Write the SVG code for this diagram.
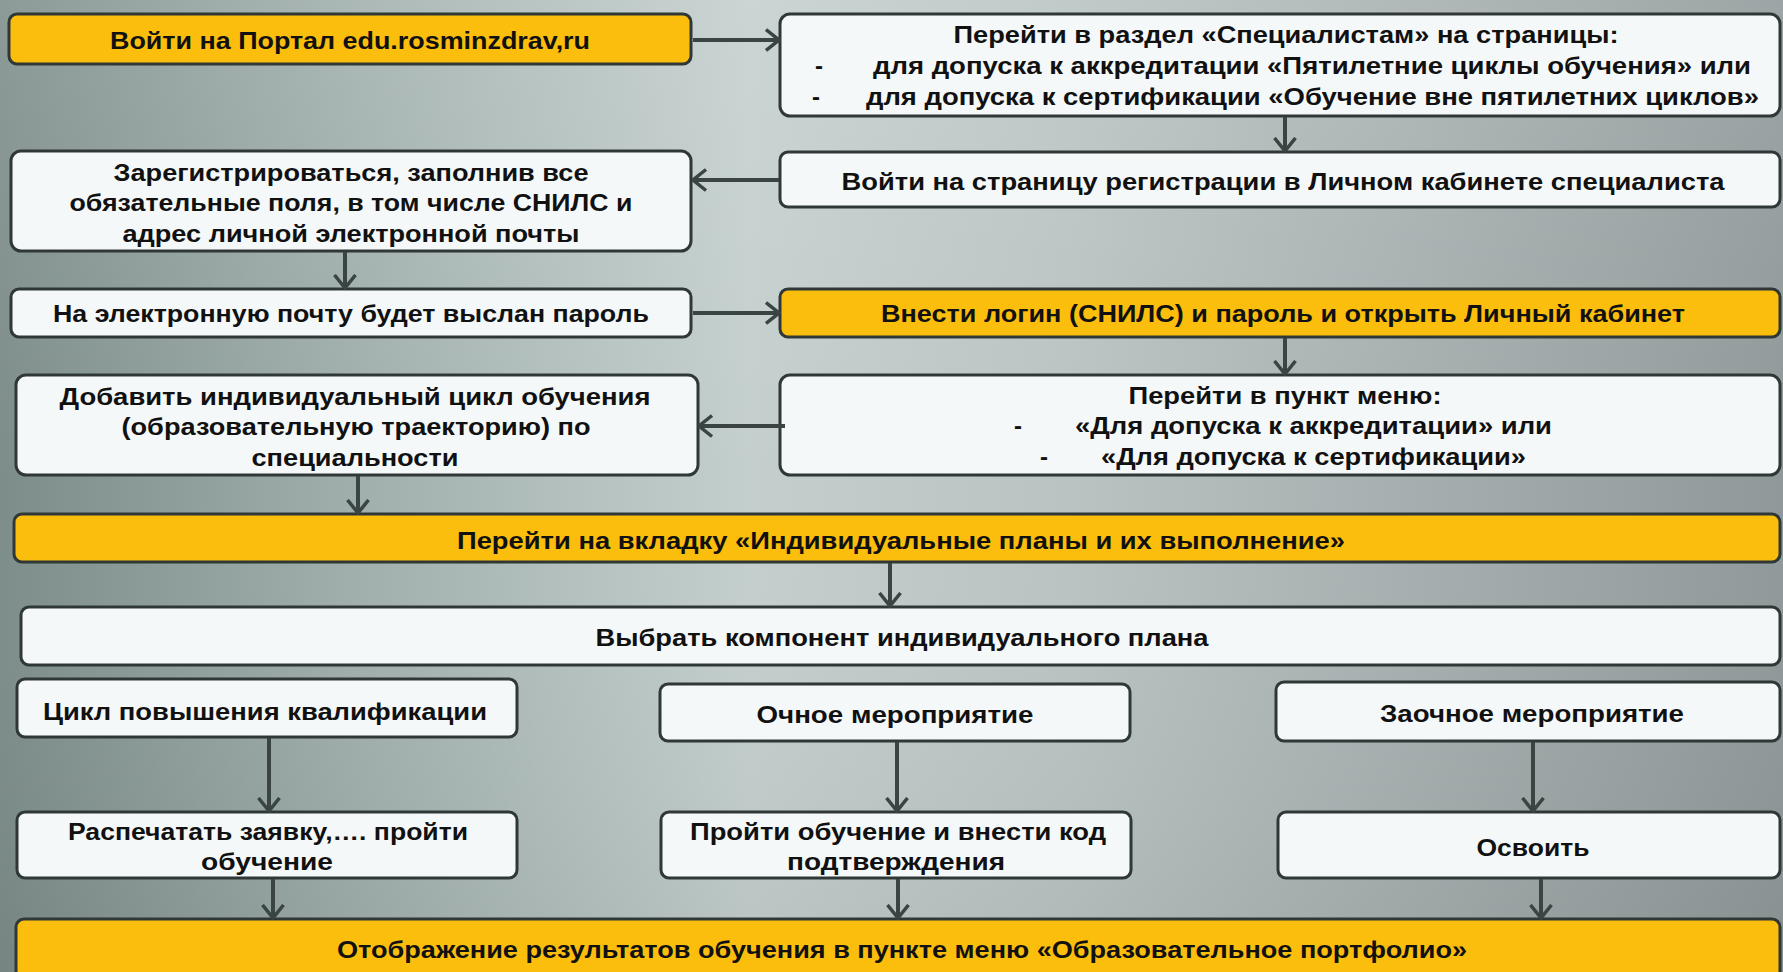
<svg xmlns="http://www.w3.org/2000/svg" width="1783" height="972" viewBox="0 0 1783 972">
<defs>
<linearGradient id="bg" x1="0" y1="0" x2="1" y2="0">
<stop offset="0" stop-color="#7d8d8a"/>
<stop offset="0.2" stop-color="#a0afac"/>
<stop offset="0.42" stop-color="#c4cfcd"/>
<stop offset="0.6" stop-color="#b8c3c2"/>
<stop offset="0.8" stop-color="#a5aeae"/>
<stop offset="1" stop-color="#8f9999"/>
</linearGradient>
<linearGradient id="bgv" x1="0" y1="0" x2="0" y2="1">
<stop offset="0" stop-color="#ffffff" stop-opacity="0.12"/>
<stop offset="0.5" stop-color="#ffffff" stop-opacity="0"/>
<stop offset="1" stop-color="#000000" stop-opacity="0.06"/>
</linearGradient>
<marker id="ah" viewBox="0 0 16 24" refX="14.5" refY="12" markerWidth="16" markerHeight="24" markerUnits="userSpaceOnUse" orient="auto">
<path d="M1.5,1.5 L14.5,12 L1.5,22.5" fill="none" stroke="#3a4442" stroke-width="3.5" stroke-linejoin="miter"/>
</marker>
<style>
.w{fill:#f5f8f8;stroke:#2f3836;stroke-width:3}
.y{fill:#fbbe0c;stroke:#2f3836;stroke-width:3}
text{font-family:"Liberation Sans",Arial,sans-serif;font-weight:bold;font-size:24px;fill:#111;text-anchor:middle;dominant-baseline:central}
.l{text-anchor:start}
.c line{stroke:#3a4442;stroke-width:4;marker-end:url(#ah)}
</style>
</defs>
<rect x="0" y="0" width="1783" height="972" fill="url(#bg)"/>
<rect x="0" y="0" width="1783" height="972" fill="url(#bgv)"/>

<g id="n1"><rect class="y" x="9" y="14" width="682" height="50" rx="8"/><text x="350" y="40" textLength="480" lengthAdjust="spacingAndGlyphs">Войти на Портал edu.rosminzdrav,ru</text></g>

<g id="n2"><rect class="w" x="780" y="14" width="1000" height="102" rx="10"/>
<text x="1286" y="34" textLength="665" lengthAdjust="spacingAndGlyphs">Перейти в раздел «Специалистам» на страницы:</text>
<text x="819" y="65">-</text><text class="l" x="873" y="65" textLength="878" lengthAdjust="spacingAndGlyphs">для допуска к аккредитации «Пятилетние циклы обучения» или</text>
<text x="816" y="96">-</text><text class="l" x="866" y="96" textLength="893" lengthAdjust="spacingAndGlyphs">для допуска к сертификации «Обучение вне пятилетних циклов»</text></g>

<g id="n3"><rect class="w" x="780" y="152" width="1000" height="55" rx="8"/><text x="1283" y="181" textLength="883" lengthAdjust="spacingAndGlyphs">Войти на страницу регистрации в Личном кабинете специалиста</text></g>

<g id="n4"><rect class="w" x="11" y="151" width="680" height="100" rx="10"/>
<text x="351" y="172" textLength="475" lengthAdjust="spacingAndGlyphs">Зарегистрироваться, заполнив все</text>
<text x="351" y="202" textLength="563" lengthAdjust="spacingAndGlyphs">обязательные поля, в том числе СНИЛС и</text>
<text x="351" y="233" textLength="457" lengthAdjust="spacingAndGlyphs">адрес личной электронной почты</text></g>

<g id="n5"><rect class="w" x="11" y="289" width="680" height="48" rx="8"/><text x="351" y="313" textLength="596" lengthAdjust="spacingAndGlyphs">На электронную почту будет выслан пароль</text></g>

<g id="n6"><rect class="y" x="780" y="289" width="1000" height="48" rx="8"/><text x="1283" y="313" textLength="804" lengthAdjust="spacingAndGlyphs">Внести логин (СНИЛС) и пароль и открыть Личный кабинет</text></g>

<g id="n7"><rect class="w" x="780" y="375" width="1000" height="100" rx="10"/>
<text x="1285" y="395" textLength="313" lengthAdjust="spacingAndGlyphs">Перейти в пункт меню:</text>
<text x="1018" y="425">-</text><text class="l" x="1075" y="425" textLength="477" lengthAdjust="spacingAndGlyphs">«Для допуска к аккредитации» или</text>
<text x="1044" y="456">-</text><text class="l" x="1101" y="456" textLength="425" lengthAdjust="spacingAndGlyphs">«Для допуска к сертификации»</text></g>

<g id="n8"><rect class="w" x="16" y="375" width="682" height="100" rx="10"/>
<text x="355" y="396" textLength="591" lengthAdjust="spacingAndGlyphs">Добавить индивидуальный цикл обучения</text>
<text x="356" y="426" textLength="469" lengthAdjust="spacingAndGlyphs">(образовательную траекторию) по</text>
<text x="355" y="457" textLength="207" lengthAdjust="spacingAndGlyphs">специальности</text></g>

<g id="n9"><rect class="y" x="14" y="514" width="1766" height="48" rx="8"/><text x="901" y="540" textLength="888" lengthAdjust="spacingAndGlyphs">Перейти на вкладку «Индивидуальные планы и их выполнение»</text></g>

<g id="n10"><rect class="w" x="21" y="607" width="1759" height="58" rx="8"/><text x="902" y="637" textLength="613" lengthAdjust="spacingAndGlyphs">Выбрать компонент индивидуального плана</text></g>

<g id="n11"><rect class="w" x="17" y="679" width="500" height="58" rx="8"/><text x="265" y="711" textLength="444" lengthAdjust="spacingAndGlyphs">Цикл повышения квалификации</text></g>
<g id="n12"><rect class="w" x="660" y="684" width="470" height="57" rx="8"/><text x="895" y="714" textLength="277" lengthAdjust="spacingAndGlyphs">Очное мероприятие</text></g>
<g id="n13"><rect class="w" x="1276" y="682" width="504" height="59" rx="8"/><text x="1532" y="713" textLength="304" lengthAdjust="spacingAndGlyphs">Заочное мероприятие</text></g>

<g id="n14"><rect class="w" x="17" y="812" width="500" height="66" rx="8"/>
<text x="268" y="831" textLength="400" lengthAdjust="spacingAndGlyphs">Распечатать заявку,…. пройти</text>
<text x="267" y="861" textLength="132" lengthAdjust="spacingAndGlyphs">обучение</text></g>
<g id="n15"><rect class="w" x="661" y="812" width="470" height="66" rx="8"/>
<text x="898" y="831" textLength="416" lengthAdjust="spacingAndGlyphs">Пройти обучение и внести код</text>
<text x="896" y="861" textLength="218" lengthAdjust="spacingAndGlyphs">подтверждения</text></g>
<g id="n16"><rect class="w" x="1278" y="812" width="502" height="66" rx="8"/><text x="1533" y="847" textLength="113" lengthAdjust="spacingAndGlyphs">Освоить</text></g>

<g id="n17"><rect class="y" x="16" y="919" width="1764" height="60" rx="8"/><text x="902" y="949" textLength="1130" lengthAdjust="spacingAndGlyphs">Отображение результатов обучения в пункте меню «Образовательное портфолио»</text></g>

<g id="connectors" class="c">
<line x1="693" y1="40" x2="779" y2="40"/>
<line x1="1285" y1="117" x2="1285" y2="151"/>
<line x1="779" y1="180" x2="693" y2="180"/>
<line x1="345" y1="252" x2="345" y2="288"/>
<line x1="693" y1="313" x2="779" y2="313"/>
<line x1="1285" y1="338" x2="1285" y2="374"/>
<line x1="785" y1="426" x2="699" y2="426"/>
<line x1="358" y1="476" x2="358" y2="513"/>
<line x1="890" y1="563" x2="890" y2="606"/>
<line x1="269" y1="738" x2="269" y2="811"/>
<line x1="897" y1="742" x2="897" y2="811"/>
<line x1="1533" y1="742" x2="1533" y2="811"/>
<line x1="273" y1="879" x2="273" y2="918"/>
<line x1="898" y1="879" x2="898" y2="918"/>
<line x1="1541" y1="879" x2="1541" y2="918"/>
</g>
</svg>
